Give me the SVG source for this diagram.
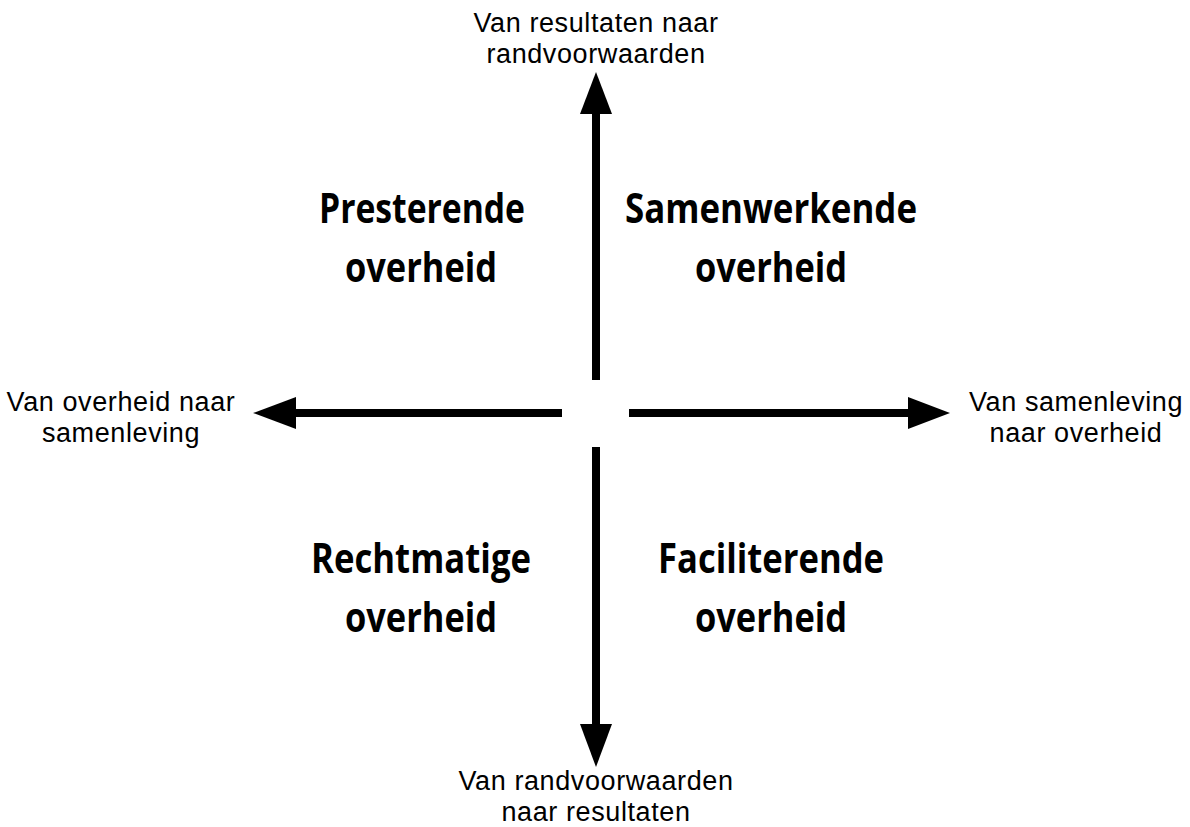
<svg xmlns="http://www.w3.org/2000/svg" width="1190" height="827" viewBox="0 0 1190 827">
<defs>
<style>
.lbl{font-family:"Liberation Sans",Arial,sans-serif;font-size:27px;letter-spacing:0.6px;fill:#000;text-anchor:middle}
.q{font-family:"Open Sans","Noto Sans",sans-serif;font-weight:bold;font-size:42px;fill:#000;text-anchor:middle}
.ax{stroke:#000;stroke-width:8;fill:none}
</style>
</defs>
<rect width="1190" height="827" fill="#fff"/>
<g id="connectors">
<line class="ax" x1="596" y1="380" x2="596" y2="110"/>
<polygon points="596,72 580,114 612,114" fill="#000"/>
<line class="ax" x1="596" y1="447" x2="596" y2="728"/>
<polygon points="596,767 580,724 612,724" fill="#000"/>
<line class="ax" x1="562" y1="413" x2="292" y2="413"/>
<polygon points="253,413 296,397 296,429" fill="#000"/>
<line class="ax" x1="629" y1="413" x2="912" y2="413"/>
<polygon points="950,413 908,397 908,429" fill="#000"/>
</g>
<g id="label-top"><text class="lbl" x="596" y="32">Van resultaten naar</text><text class="lbl" x="596" y="63">randvoorwaarden</text></g>
<g id="label-bottom"><text class="lbl" x="596" y="790">Van randvoorwaarden</text><text class="lbl" x="596" y="821">naar resultaten</text></g>
<g id="label-left"><text class="lbl" x="121" y="411">Van overheid naar</text><text class="lbl" x="121" y="442">samenleving</text></g>
<g id="label-right"><text class="lbl" x="1076" y="411">Van samenleving</text><text class="lbl" x="1076" y="442">naar overheid</text></g>
<g id="q-presterende"><text class="q" x="422" y="223" textLength="206" lengthAdjust="spacingAndGlyphs">Presterende</text><text class="q" x="421" y="282" textLength="152" lengthAdjust="spacingAndGlyphs">overheid</text></g>
<g id="q-samenwerkende"><text class="q" x="771" y="223" textLength="292" lengthAdjust="spacingAndGlyphs">Samenwerkende</text><text class="q" x="771" y="282" textLength="152" lengthAdjust="spacingAndGlyphs">overheid</text></g>
<g id="q-rechtmatige"><text class="q" x="421" y="573" textLength="220" lengthAdjust="spacingAndGlyphs">Rechtmatige</text><text class="q" x="421" y="632" textLength="152" lengthAdjust="spacingAndGlyphs">overheid</text></g>
<g id="q-faciliterende"><text class="q" x="771" y="573" textLength="226" lengthAdjust="spacingAndGlyphs">Faciliterende</text><text class="q" x="771" y="632" textLength="152" lengthAdjust="spacingAndGlyphs">overheid</text></g>
</svg>
